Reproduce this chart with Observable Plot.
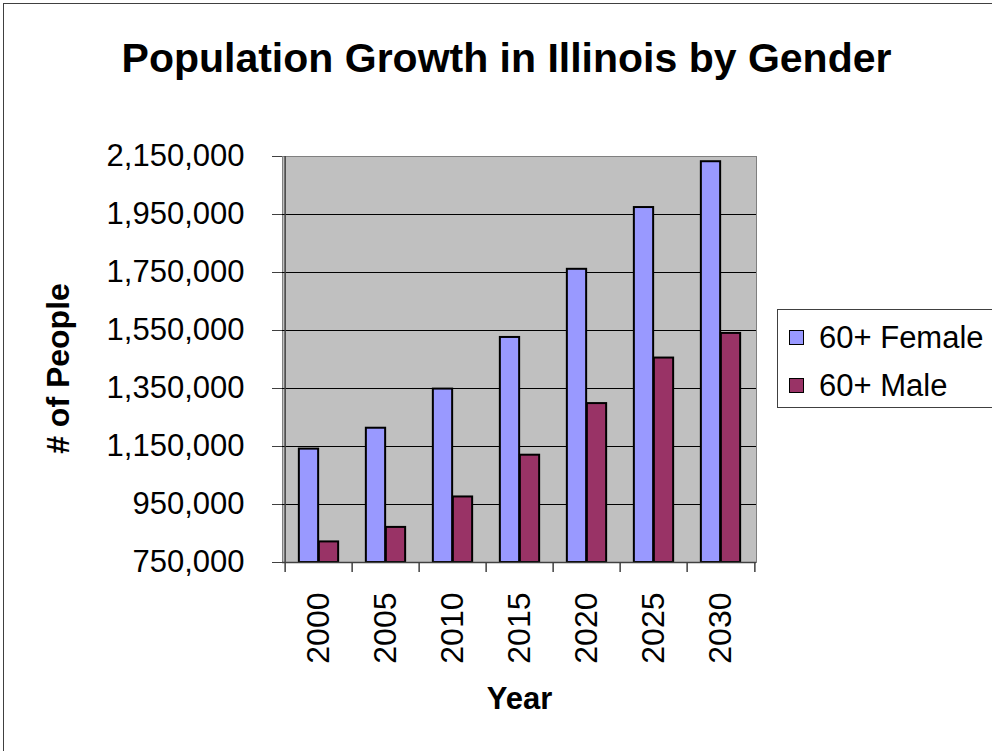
<!DOCTYPE html>
<html>
<head>
<meta charset="utf-8">
<script src="https://cdn.jsdelivr.net/npm/d3@7"></script>
<script src="https://cdn.jsdelivr.net/npm/@observablehq/plot@0.6"></script>
<style>
  html, body { margin: 0; padding: 0; background: #fff; }
  #wrap { position: relative; width: 992px; height: 751px; overflow: hidden; font-family: "Liberation Sans", Arial, sans-serif; }
  #outer { position: absolute; left: 3px; top: 3px; width: 1200px; height: 1200px; border: 1px solid #404040; box-sizing: border-box; }
  #chart { position: absolute; left: 0; top: 0; }
  #legend { position: absolute; left: 777px; top: 309px; width: 230px; height: 99px; border: 1px solid #404040; box-sizing: border-box; background: #fff; }
  .item { position: absolute; left: 11px; display: flex; align-items: center; font-size: 31px; color: #000; line-height: 1; }
  .sw { width: 13px; height: 13px; border: 1px solid #000; margin-right: 15px; }
</style>
</head>
<body>
<div id="wrap">
  <div id="outer"></div>
  <div id="chart"></div>
  <div id="legend"></div>
</div>
<script>
const title = "Population Growth in Illinois by Gender";
const years = ["2000", "2005", "2010", "2015", "2020", "2025", "2030"];
const femaleValues = [1141000, 1213000, 1348000, 1526000, 1761000, 1974000, 2132000];
const maleValues = [821000, 871000, 976000, 1120000, 1298000, 1455000, 1540000];
const seriesNames = ["60+ Female", "60+ Male"];
const seriesColors = ["#9999ff", "#993366"];
const yTicks = [750000, 950000, 1150000, 1350000, 1550000, 1750000, 1950000, 2150000];
const yDomain = [750000, 2150000];

const W = 992, H = 751;
const mL = 282, mR = 236, mT = 156, mB = 189;
const plotW = W - mL - mR, plotH = H - mT - mB;
const step = plotW / years.length;
const barW = 20;
const outer = (step - 2 * barW) / 2;

const female = years.map((y, i) => ({year: y, value: femaleValues[i]}));
const male = years.map((y, i) => ({year: y, value: maleValues[i]}));

const chart = Plot.plot({
  width: W,
  height: H,
  marginLeft: mL,
  marginRight: mR,
  marginTop: mT,
  marginBottom: mB,
  style: {fontFamily: "'Liberation Sans', Arial, sans-serif", background: "transparent", color: "#000"},
  x: {domain: years, padding: 0},
  y: {domain: yDomain},
  marks: [
    Plot.frame({fill: "#c0c0c0", stroke: "#808080"}),
    Plot.gridY(yTicks.slice(0, -1), {stroke: "#000", strokeOpacity: 1, strokeWidth: 1}),
    Plot.barY(female, {x: "year", y1: yDomain[0], y2: "value", fill: seriesColors[0], stroke: "#000", strokeWidth: 2, insetLeft: outer, insetRight: outer + barW}),
    Plot.barY(male, {x: "year", y1: yDomain[0], y2: "value", fill: seriesColors[1], stroke: "#000", strokeWidth: 2, insetLeft: outer + barW, insetRight: outer}),
    Plot.ruleY([yDomain[0]], {stroke: "#404040", strokeWidth: 1.5}),
    Plot.ruleX([years[0]], {dx: -step / 2, stroke: "#404040", strokeWidth: 1.5}),
    Plot.ruleX(years, {dx: -step / 2, insetTop: plotH, insetBottom: -10, stroke: "#404040", strokeWidth: 1.5}),
    Plot.ruleX([years[years.length - 1]], {dx: step / 2, insetTop: plotH, insetBottom: -10, stroke: "#404040", strokeWidth: 1.5}),
    Plot.axisY({ticks: yTicks, tickFormat: d3.format(","), tickSize: 10, tickPadding: 28, fontSize: 31, label: null, stroke: "#404040"}),
    Plot.axisX({tickSize: 0, tickPadding: 30, tickRotate: -90, fontSize: 32, label: null}),
    Plot.text([title], {frameAnchor: "top", dx: -13, dy: -98, lineAnchor: "middle", textAnchor: "middle", fontWeight: "bold", fontSize: 41, fill: "#000"}),
    Plot.text(["# of People"], {frameAnchor: "left", dx: -224, dy: 9, rotate: -90, textAnchor: "middle", lineAnchor: "middle", fontWeight: "bold", fontSize: 32, fill: "#000"}),
    Plot.text(["Year"], {frameAnchor: "bottom", dy: 137, lineAnchor: "middle", textAnchor: "middle", fontWeight: "bold", fontSize: 31, fill: "#000"})
  ]
});
document.getElementById("chart").appendChild(chart);

const legend = document.getElementById("legend");
seriesNames.forEach((name, i) => {
  const item = document.createElement("div");
  item.className = "item";
  item.style.top = (i === 0 ? 12 : 60) + "px";
  const sw = document.createElement("div");
  sw.className = "sw";
  sw.style.background = seriesColors[i];
  const label = document.createElement("span");
  label.textContent = name;
  item.appendChild(sw);
  item.appendChild(label);
  legend.appendChild(item);
});
</script>
</body>
</html>
